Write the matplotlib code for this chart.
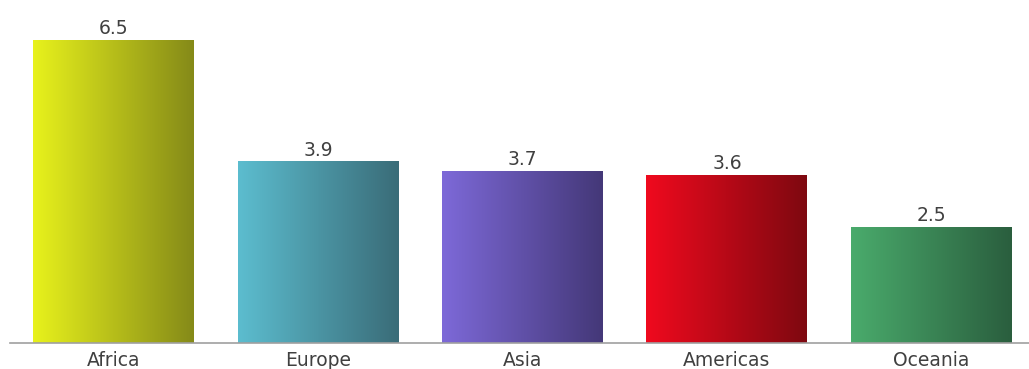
#!/usr/bin/env python3
"""Bar chart with horizontal gradient fills per region."""

import numpy as np
import matplotlib.pyplot as plt
from matplotlib.colors import LinearSegmentedColormap

regions = ["Africa", "Europe", "Asia", "Americas", "Oceania"]
values = [6.5, 3.9, 3.7, 3.6, 2.5]
value_labels = ["6.5", "3.9", "3.7", "3.6", "2.5"]
left_colors = ["#e8f21c", "#5cbdcf", "#7d69d8", "#f00a1e", "#4aab6c"]
right_colors = ["#858a18", "#3a6c78", "#443878", "#7e0810", "#2a5e3e"]

fig = plt.figure(figsize=(10.29, 3.69), dpi=100)
ax = fig.add_axes([10 / 1029, 26 / 369, 1019 / 1029, 326 / 369])

x = np.arange(len(regions))
bars = ax.bar(x, values, width=0.787, color="none", edgecolor="none", zorder=2)

grad = np.linspace(0, 1, 256).reshape(1, -1)
for bar, c0, c1, lab in zip(bars, left_colors, right_colors, value_labels):
    x0, y0 = bar.get_x(), bar.get_y()
    w, h = bar.get_width(), bar.get_height()
    cmap = LinearSegmentedColormap.from_list("g", [c0, c1])
    im = ax.imshow(grad, cmap=cmap, aspect="auto",
                   extent=[x0, x0 + w, y0, y0 + h], zorder=2)
    im.set_clip_path(bar)
    ax.text(x0 + w / 2, y0 + h + 0.04, lab, ha="center", va="bottom",
            fontsize=13.5, color="#404040")

ax.set_xlim(-0.506, 4.477)
ax.set_ylim(0, 7)
ax.set_xticks(x)
ax.set_xticklabels(regions, fontsize=13.5, color="#404040")
ax.tick_params(axis="x", length=0, pad=6)
ax.set_yticks([])
for side in ["top", "left", "right"]:
    ax.spines[side].set_visible(False)
ax.spines["bottom"].set_color("#a0a0a0")
ax.spines["bottom"].set_linewidth(1.2)

fig.savefig("out.png", dpi=100)
